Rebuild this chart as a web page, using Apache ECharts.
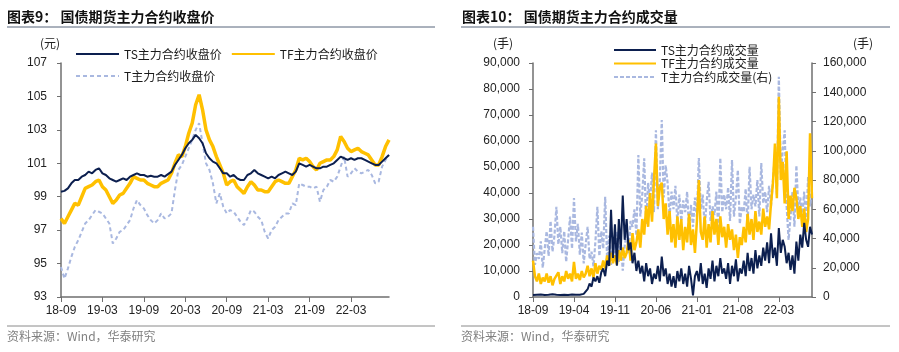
<!DOCTYPE html>
<html>
<head>
<meta charset="utf-8">
<script src="https://cdn.jsdelivr.net/npm/echarts@6/dist/echarts.min.js"></script>
<style>
html, body { margin: 0; padding: 0; background: #fff; }
#main { width: 899px; height: 352px; }
</style>
</head>
<body>
<div id="main"></div>
<script>
// 收盘价：半月一个点，2018-09 ~ 2022-08
var closeTS = [99.3,99.35,99.5,99.8,100.0,100.0,100.2,100.3,100.5,100.4,100.6,100.7,
  100.4,100.3,100.1,100.0,99.9,100.0,100.1,100.0,100.2,100.3,100.4,100.3,
  100.3,100.2,100.25,100.2,100.2,100.3,100.2,100.35,100.5,100.9,101.2,101.5,
  101.9,102.2,102.4,102.7,102.5,102.2,101.6,101.3,101.1,101.0,100.7,100.4,
  100.4,100.2,100.3,100.1,100.0,100.0,100.3,100.4,100.6,100.4,100.3,100.2,
  100.1,100.2,100.1,100.3,100.4,100.5,100.4,100.3,100.5,101.0,100.9,100.8,
  100.9,100.8,100.7,100.7,100.8,100.8,100.9,101.0,101.2,101.4,101.3,101.2,
  101.3,101.2,101.3,101.3,101.2,101.1,101.0,100.9,100.9,101.1,101.3,101.5];
var closeTF = [97.7,97.4,97.8,98.2,98.6,98.5,99.0,99.5,99.6,99.7,99.9,100.0,
  99.6,99.4,99.0,98.6,98.8,99.1,99.2,99.5,99.8,100.2,100.1,100.0,
  100.0,99.8,99.7,99.6,99.6,99.8,99.9,100.0,100.4,101.0,101.5,101.4,
  102.0,102.8,103.4,104.5,105.1,104.2,103.0,102.4,102.0,101.4,100.9,100.4,
  99.7,99.9,100.0,99.6,99.4,99.2,99.6,99.9,99.7,99.4,99.4,99.3,
  99.3,99.6,99.9,100.0,99.9,99.8,99.8,100.2,100.6,101.3,101.2,101.3,
  101.1,100.8,100.6,101.0,101.1,101.2,101.2,101.4,101.8,102.6,102.3,101.9,
  101.7,101.8,101.9,101.7,101.6,101.5,101.2,100.9,100.9,101.4,102.0,102.4];
var closeT = [94.8,94.1,94.7,95.4,96.0,96.4,96.9,97.4,97.6,97.9,98.2,98.1,
  98.0,97.7,97.4,96.2,96.5,96.9,97.0,97.3,97.6,98.3,98.8,98.5,
  98.3,97.9,97.6,97.4,97.6,98.0,97.7,97.8,98.0,99.4,100.6,100.9,
  101.4,101.9,102.4,103.0,103.4,102.2,101.0,100.6,99.8,98.6,99.2,98.4,
  98.0,98.2,98.1,97.8,97.5,97.3,97.7,98.2,98.1,97.8,97.6,96.9,
  96.5,97.0,97.2,97.6,97.8,98.0,98.0,98.6,98.5,99.8,99.7,99.6,
  99.6,99.5,99.6,98.7,99.4,99.6,100.0,99.9,100.2,100.8,101.4,100.2,
  100.4,100.7,100.5,100.4,100.5,100.6,100.3,99.8,99.9,100.8,101.2,101.5];

// 成交量：每旬一个点（手）
var volTS = [800,500,900, 600,1000,700, 800,500,900, 700,1100,600, 900,600,800, 500,900,700,
  800,600,1000, 700,900,600, 900,700,1200, 1500,3000,5200, 4000,7500,6000, 8000,5500,9500,
  11000,8000,14000, 12000,33500,15000, 28000,12000,30000, 18000,39000,22000, 30000,18000,21000, 13000,17000,10000,
  14000,9000,12000, 6000,13000,8000, 11000,5000,9000, 7000,12000,6000, 15500,8000,11000, 5000,9000,4000,
  8000,3500,10000, 6000,11000,5000, 9000,4000,12000, 7000,600,8000, 10000,6000,13000, 5000,9000,3500,
  11000,7000,14000, 6000,12000,8000, 15000,9000,11000, 7000,13000,5000, 12000,8000,14500, 6000,11000,9000,
  14000,8000,17000, 10000,15000,9000, 18000,11000,16000, 12000,19000,14000, 21000,13000,24500, 15000,19000,12000,
  26500,17000,22000, 19300,13000,17000, 10400,16000,9000, 21300,14000,24000, 19000,28500,22000, 19300,27000,24000];
var volTF = [14000,8000,6000, 9000,5000,7500, 6000,9000,5500, 8000,4500,7000, 6500,9500,5000, 8000,6000,10000,
  7000,9000,6000, 13500,7000,9000, 6500,10000,7500, 9000,12000,8000, 11000,7500,13000, 9000,12000,10500,
  14000,11000,16000, 12000,17000,13000, 16000,12500,18000, 14000,19000,15000, 17000,22000,14000, 24600,18000,21000,
  26000,19000,30000, 24000,35000,27000, 40000,29000,45000, 59000,35000,42000, 44000,30000,36000, 24000,33000,21000,
  28000,19000,31000, 22000,30000,18000, 27000,21000,32000, 20000,26000,17000, 29000,45000,25000, 22000,31000,19000,
  28000,21000,33000, 24000,30000,20000, 31000,23000,27000, 19000,28000,22000, 26000,18000,24000, 15000,23000,20000,
  27000,21000,32000, 24000,30000,22000, 33000,25000,29000, 24000,34000,27000, 31000,26000,36000, 44000,59000,38000,
  77000,45000,52000, 36000,56000,30000, 39000,33000,42000, 38000,30000,35000, 27000,34000,25000, 30000,63000,38000];
var volT = [48000,22000,30000, 26000,38000,20000, 33000,45000,28000, 52000,31000,42000, 61700,36000,48000, 30000,45000,24000,
  39000,55000,33000, 67700,38000,50000, 29000,44000,23000, 36000,48000,26000, 31000,21000,38000, 61700,28000,45000,
  33000,68600,25000, 42000,22000,36000, 30000,45000,24000, 38000,18000,35000, 44000,30000,52000, 48000,60000,42000,
  97000,55000,70000, 94800,50000,78000, 65000,85000,58000, 114000,60000,80000, 121000,68000,90000, 78000,55000,72000,
  60000,76000,50000, 70000,52000,66000, 58000,72000,45000, 63000,48000,68000, 55000,95000,60000, 70000,48000,65000,
  78800,52000,62000, 56000,72000,46000, 95000,58000,70000, 60000,75000,52000, 93700,55000,68000, 86800,50000,62000,
  58000,74000,48000, 89000,60000,70000, 62000,80000,55000, 91600,64000,72000, 58000,76000,62000, 80000,98000,70000,
  150600,85000,100000, 114000,62000,39000, 55000,72000,48000, 90000,60000,68000, 55000,72000,50000, 82000,62000,75000];

function pad(n) { return n < 10 ? '0' + n : '' + n; }
// 日期类目
var priceDates = [];
for (var i = 0; i < closeTS.length; i++) {
  var m = 8 + Math.floor(i / 2);
  priceDates.push((2018 + Math.floor(m / 12)) + '-' + pad(m % 12 + 1) + (i % 2 ? '-16' : '-01'));
}
var volDates = [];
for (var j = 0; j < volTS.length; j++) {
  var mm = 8 + Math.floor(j / 3);
  volDates.push((2018 + Math.floor(mm / 12)) + '-' + pad(mm % 12 + 1) + '-' + pad(1 + (j % 3) * 10));
}

var FONT = '"Liberation Sans", Arial, "Noto Sans CJK SC", sans-serif';
var CJK = '"Noto Sans CJK SC", "Liberation Sans", sans-serif';
var NAVY = '#0c1f4f', GOLD = '#ffc000', LBLUE = '#a9b8e0';
var AXIS = '#6f6f6f';

function shortDate(v) { return v.slice(2, 7); }
function commas(v) { return String(v).replace(/\B(?=(\d{3})+(?!\d))/g, ','); }

var dom = document.getElementById('main');
var myChart = echarts.init(dom, null, { renderer: 'canvas' });

// 图例只要线，不要圆点
var legendBase = {
  itemWidth: 43, itemHeight: 12, padding: 0,
  itemStyle: { opacity: 0 },
  textStyle: { fontSize: 12, color: '#1a1a1a', fontFamily: CJK }
};

var option = {
  animation: false,
  backgroundColor: '#fff',
  textStyle: { fontFamily: FONT },
  graphic: [
    { type: 'text', left: 7, top: 10, style: { text: '图表9： 国债期货主力合约收盘价', font: 'bold 14px ' + CJK, fill: '#111' } },
    { type: 'text', left: 462, top: 10, style: { text: '图表10： 国债期货主力合约成交量', font: 'bold 14px ' + CJK, fill: '#111' } },
    { type: 'line', shape: { x1: 7, y1: 27, x2: 435, y2: 27 }, style: { stroke: '#56657a', lineWidth: 1 } },
    { type: 'line', shape: { x1: 461, y1: 27, x2: 890, y2: 27 }, style: { stroke: '#56657a', lineWidth: 1 } },
    { type: 'line', shape: { x1: 7, y1: 326, x2: 435, y2: 326 }, style: { stroke: '#8a8a8a', lineWidth: 1 } },
    { type: 'line', shape: { x1: 461, y1: 326, x2: 890, y2: 326 }, style: { stroke: '#8a8a8a', lineWidth: 1 } },
    { type: 'text', left: 7, top: 330, style: { text: '资料来源：Wind，华泰研究', font: '12px ' + CJK, fill: '#808080' } },
    { type: 'text', left: 461, top: 330, style: { text: '资料来源：Wind，华泰研究', font: '12px ' + CJK, fill: '#808080' } },
    { type: 'text', left: 40, top: 37, style: { text: '(元)', font: '12px ' + CJK, fill: '#222' } },
    { type: 'text', left: 493, top: 37, style: { text: '(手)', font: '12px ' + CJK, fill: '#222' } },
    { type: 'text', left: 853, top: 37, style: { text: '(手)', font: '12px ' + CJK, fill: '#222' } }
  ],
  legend: [
    Object.assign({}, legendBase, {
      data: ['TS主力合约收盘价', 'TF主力合约收盘价'],
      left: 75, top: 48, itemGap: 9
    }),
    Object.assign({}, legendBase, {
      data: ['T主力合约收盘价'],
      left: 75, top: 70
    }),
    Object.assign({}, legendBase, {
      data: ['TS主力合约成交量', 'TF主力合约成交量', 'T主力合约成交量(右)'],
      orient: 'vertical', left: 613, top: 44, itemWidth: 42, itemGap: 1.5
    })
  ],
  grid: [
    { left: 61, top: 63, width: 328, height: 234 },
    { left: 533, top: 63, width: 279, height: 234 }
  ],
  xAxis: [
    {
      gridIndex: 0, type: 'category', data: priceDates, boundaryGap: false,
      axisLine: { lineStyle: { color: AXIS, width: 1.5 } },
      axisTick: { interval: 11, length: 5, lineStyle: { color: AXIS } },
      axisLabel: { interval: 11, formatter: shortDate, color: '#222', fontSize: 12, margin: 8 },
      splitLine: { show: false }
    },
    {
      gridIndex: 1, type: 'category', data: volDates, boundaryGap: false,
      axisLine: { lineStyle: { color: AXIS, width: 1.5 } },
      axisTick: { interval: 20, length: 5, lineStyle: { color: AXIS } },
      axisLabel: { interval: 20, formatter: shortDate, color: '#222', fontSize: 12, margin: 8 },
      splitLine: { show: false }
    }
  ],
  yAxis: [
    {
      gridIndex: 0, type: 'value', min: 93, max: 107, interval: 2,
      axisLine: { show: true, lineStyle: { color: AXIS, width: 1.5 } },
      axisTick: { show: true, length: 4, lineStyle: { color: AXIS } },
      axisLabel: { color: '#222', fontSize: 12, margin: 14 },
      splitLine: { show: false }
    },
    {
      gridIndex: 1, type: 'value', min: 0, max: 90000, interval: 10000,
      axisLine: { show: true, lineStyle: { color: AXIS, width: 1.5 } },
      axisTick: { show: true, length: 4, lineStyle: { color: AXIS } },
      axisLabel: { color: '#222', fontSize: 12, margin: 13, formatter: commas },
      splitLine: { show: false }
    },
    {
      gridIndex: 1, type: 'value', position: 'right', min: 0, max: 160000, interval: 20000,
      axisLine: { show: true, lineStyle: { color: AXIS, width: 1.5 } },
      axisTick: { show: true, length: 4, lineStyle: { color: AXIS } },
      axisLabel: { color: '#222', fontSize: 12, margin: 11, formatter: commas },
      splitLine: { show: false }
    }
  ],
  series: [
    {
      name: 'T主力合约收盘价', type: 'line', xAxisIndex: 0, yAxisIndex: 0, data: closeT,
      symbol: 'none', color: LBLUE, lineStyle: { width: 2, type: [4, 3], color: LBLUE }
    },
    {
      name: 'TF主力合约收盘价', type: 'line', xAxisIndex: 0, yAxisIndex: 0, data: closeTF,
      symbol: 'none', color: GOLD, lineStyle: { width: 3.5, color: GOLD }
    },
    {
      name: 'TS主力合约收盘价', type: 'line', xAxisIndex: 0, yAxisIndex: 0, data: closeTS,
      symbol: 'none', color: NAVY, lineStyle: { width: 2, color: NAVY }
    },
    {
      name: 'T主力合约成交量(右)', type: 'line', xAxisIndex: 1, yAxisIndex: 2, data: volT,
      symbol: 'none', color: LBLUE, lineStyle: { width: 2.2, type: [4, 2], color: LBLUE }
    },
    {
      name: 'TF主力合约成交量', type: 'line', xAxisIndex: 1, yAxisIndex: 1, data: volTF,
      symbol: 'none', color: GOLD, lineStyle: { width: 2.5, color: GOLD }
    },
    {
      name: 'TS主力合约成交量', type: 'line', xAxisIndex: 1, yAxisIndex: 1, data: volTS,
      symbol: 'none', color: NAVY, lineStyle: { width: 2, color: NAVY }
    }
  ]
};

myChart.setOption(option);
</script>
</body>
</html>
